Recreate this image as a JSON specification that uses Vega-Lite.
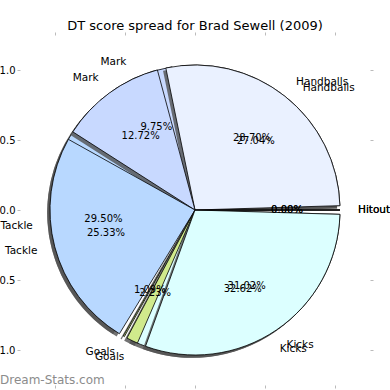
{
  "$schema": "https://vega.github.io/schema/vega-lite/v6.json",
  "width": 350,
  "height": 350,
  "autosize": "none",
  "padding": {"left": 20, "top": 35, "right": 20, "bottom": 5},
  "background": "white",
  "title": {"text": "DT score spread for Brad Sewell (2009)", "font": "DejaVu Sans", "fontSize": 13, "fontWeight": "normal", "color": "black", "anchor": "middle", "offset": -1},
  "config": {"view": {"stroke": null}, "font": "DejaVu Sans"},
  "datasets": {
    "a": [
      {"k": 1, "part": "Handballs", "share": 0.2704},
      {"k": 2, "part": "Mark", "share": 0.0975},
      {"k": 3, "part": "Tackle", "share": 0.2950},
      {"k": 4, "part": "Goals", "share": 0.0109},
      {"k": 5, "part": "Kicks", "share": 0.3262},
      {"k": 6, "part": "Hitout", "share": 0.0}
    ],
    "b": [
      {"k": 1, "part": "Handballs", "share": 0.2870},
      {"k": 2, "part": "Mark", "share": 0.1272},
      {"k": 3, "part": "Tackle", "share": 0.2533},
      {"k": 4, "part": "Goals", "share": 0.0223},
      {"k": 5, "part": "Kicks", "share": 0.3102},
      {"k": 6, "part": "Hitout", "share": 0.0}
    ]
  },
  "layer": [
    {
      "data": {"name": "a"},
      "mark": {"type": "arc", "radius": 145, "padAngle": 0.06, "fill": "#505050", "opacity": 0.8, "stroke": null},
      "encoding": {
        "theta": {"field": "share", "type": "quantitative", "stack": true, "scale": {"domain": [0, 1], "range": [1.5707963, -4.712389]}},
        "order": {"field": "k", "type": "quantitative"},
        "x": {"datum": -0.02, "type": "quantitative", "scale": {"domain": [-1.25, 1.25], "nice": false}, "axis": {"orient": "bottom", "values": [-1, -0.5, 0, 0.5, 1], "format": ".1f", "grid": false, "domain": false, "tickColor": "#bbbbbb", "tickSize": 3, "labelFont": "DejaVu Sans", "labelFontSize": 10, "labelColor": "black", "title": null}},
        "y": {"datum": -0.02, "type": "quantitative", "scale": {"domain": [-1.25, 1.25], "nice": false}, "axis": {"orient": "left", "values": [-1, -0.5, 0, 0.5, 1], "format": ".1f", "grid": false, "domain": false, "tickColor": "#bbbbbb", "tickSize": 3, "labelPadding": 2, "labelFont": "DejaVu Sans", "labelFontSize": 10, "labelColor": "black", "title": null}}
      }
    },
    {
      "data": {"name": "a"},
      "mark": {"type": "arc", "radius": 145, "padAngle": 0.06, "stroke": "black", "strokeWidth": 0.8},
      "encoding": {
        "theta": {"field": "share", "type": "quantitative", "stack": true},
        "order": {"field": "k", "type": "quantitative"},
        "color": {"field": "part", "type": "nominal", "legend": null, "scale": {"domain": ["Handballs", "Mark", "Tackle", "Goals", "Kicks", "Hitout"], "range": ["#eaf1ff", "#c8d9ff", "#b8d8ff", "#d0ea8c", "#dcffff", "#f0f0f0"]}}
      }
    },
    {
      "data": {"name": "b"},
      "mark": {"type": "arc", "radius": 145, "padAngle": 0.06, "fill": "#505050", "opacity": 0.8, "stroke": null},
      "encoding": {
        "theta": {"field": "share", "type": "quantitative", "stack": true},
        "order": {"field": "k", "type": "quantitative"},
        "x": {"datum": -0.02, "type": "quantitative", "scale": {"domain": [-1.25, 1.25], "nice": false}, "axis": {"orient": "top", "values": [-1, -0.5, 0, 0.5, 1], "labels": false, "grid": false, "domain": false, "tickColor": "#bbbbbb", "tickSize": 3, "title": null}},
        "y": {"datum": -0.02, "type": "quantitative", "scale": {"domain": [-1.25, 1.25], "nice": false}, "axis": {"orient": "right", "values": [-1, -0.5, 0, 0.5, 1], "labels": false, "grid": false, "domain": false, "tickColor": "#bbbbbb", "tickSize": 3, "title": null}}
      }
    },
    {
      "data": {"name": "b"},
      "mark": {"type": "arc", "radius": 145, "padAngle": 0.06, "stroke": "black", "strokeWidth": 0.8},
      "encoding": {
        "theta": {"field": "share", "type": "quantitative", "stack": true},
        "order": {"field": "k", "type": "quantitative"},
        "color": {"field": "part", "type": "nominal", "legend": null}
      }
    },
    {
      "data": {"name": "a"},
      "mark": {"type": "text", "radius": 163, "align": {"expr": "indexof(['Mark','Tackle','Goals'], datum.part) >= 0 ? 'right' : 'left'"}, "baseline": "middle", "fontSize": 10.5, "font": "DejaVu Sans", "color": "black"},
      "encoding": {
        "theta": {"field": "share", "type": "quantitative", "stack": true},
        "order": {"field": "k", "type": "quantitative"},
        "text": {"field": "part", "type": "nominal"}
      }
    },
    {
      "data": {"name": "b"},
      "mark": {"type": "text", "radius": 163, "align": {"expr": "indexof(['Mark','Tackle','Goals'], datum.part) >= 0 ? 'right' : 'left'"}, "baseline": "middle", "fontSize": 10.5, "font": "DejaVu Sans", "color": "black"},
      "encoding": {
        "theta": {"field": "share", "type": "quantitative", "stack": true},
        "order": {"field": "k", "type": "quantitative"},
        "text": {"field": "part", "type": "nominal"}
      }
    },
    {
      "data": {"name": "a"},
      "mark": {"type": "text", "radius": 92, "align": "center", "baseline": "middle", "fontSize": 10, "font": "DejaVu Sans", "color": "black"},
      "encoding": {
        "theta": {"field": "share", "type": "quantitative", "stack": true},
        "order": {"field": "k", "type": "quantitative"},
        "text": {"field": "share", "type": "quantitative", "format": ".2%"}
      }
    },
    {
      "data": {"name": "b"},
      "mark": {"type": "text", "radius": 92, "align": "center", "baseline": "middle", "fontSize": 10, "font": "DejaVu Sans", "color": "black"},
      "encoding": {
        "theta": {"field": "share", "type": "quantitative", "stack": true},
        "order": {"field": "k", "type": "quantitative"},
        "text": {"field": "share", "type": "quantitative", "format": ".2%"}
      }
    },
    {
      "data": {"values": [{"site": "Dream-Stats.com"}]},
      "mark": {"type": "text", "align": "left", "baseline": "middle", "fontSize": 12, "font": "DejaVu Sans", "fontWeight": "normal", "color": "#8c8c8c"},
      "encoding": {
        "x": {"datum": -1.393, "type": "quantitative", "scale": {"domain": [-1.25, 1.25], "nice": false}, "axis": null},
        "y": {"datum": -1.214, "type": "quantitative", "scale": {"domain": [-1.25, 1.25], "nice": false}, "axis": null},
        "text": {"field": "site", "type": "nominal"}
      }
    }
  ],
  "resolve": {"axis": {"x": "independent", "y": "independent"}}
}
